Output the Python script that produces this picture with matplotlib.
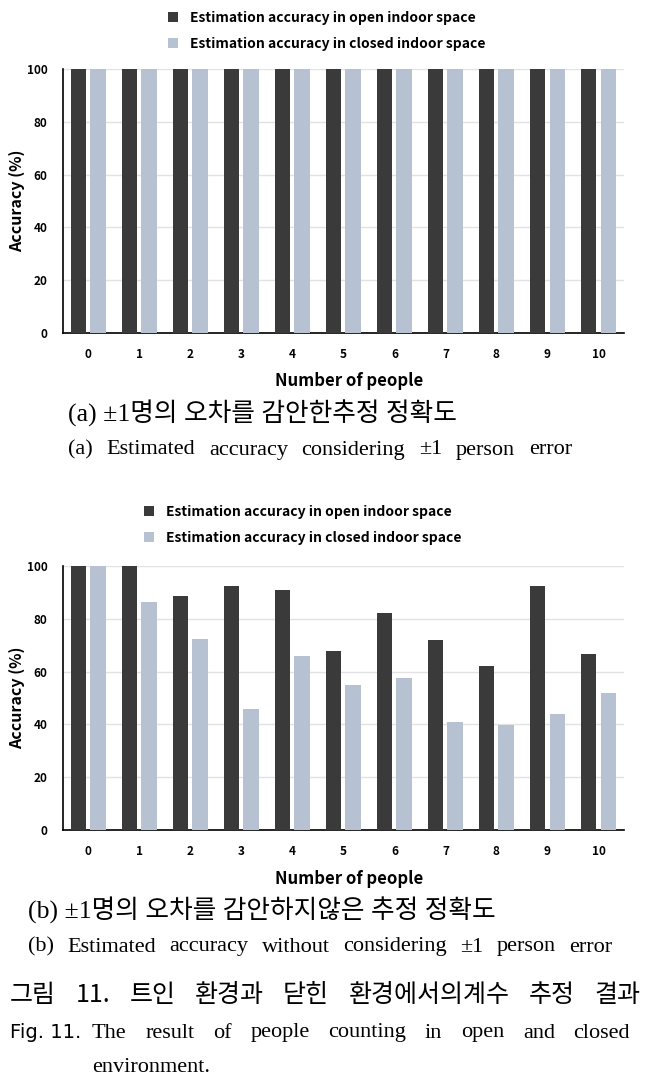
import numpy as np
import matplotlib
matplotlib.use('Agg')
import matplotlib.pyplot as plt

W, H = 649, 1088

people = list(range(11))
open_a = [100, 100, 100, 100, 100, 100, 100, 100, 100, 100, 100]
closed_a = [100, 100, 100, 100, 100, 100, 100, 100, 100, 100, 100]
open_b = [100, 100, 88.6, 92.4, 90.9, 67.9, 82.3, 71.9, 62.2, 92.4, 66.5]
closed_b = [100, 86.4, 72.3, 45.7, 65.9, 54.9, 57.4, 40.8, 39.9, 44.0, 51.9]

labels = ['Estimation accuracy in open indoor space',
          'Estimation accuracy in closed indoor space']
dark = '#3a3a3a'
light = '#b6c2d2'
chart_font = ['Noto Sans CJK KR', 'DejaVu Sans']
serif_kr = ['Liberation Serif', 'Noto Sans CJK KR']

fig = plt.figure(figsize=(W/100, H/100), dpi=100)


def px(x, y):
    return x/W, 1 - y/H


def chart(top, bottom, op, cl, leg_x, leg_y):
    l, t = px(62.7, top)
    r, b = px(624, bottom)
    ax = fig.add_axes([l, b, r - l, t - b])
    x = np.array(people)
    ax.bar(x - 0.19, op, 0.3, color=dark, label=labels[0], zorder=3)
    ax.bar(x + 0.19, cl, 0.3, color=light, label=labels[1], zorder=3)
    ax.set_xlim(-0.5, 10.5)
    ax.set_ylim(0, 100)
    ax.set_yticks([0, 20, 40, 60, 80, 100])
    ax.set_xticks(people)
    ax.grid(axis='y', color='#e2e2e2', lw=1, zorder=0)
    for s in ['top', 'right']:
        ax.spines[s].set_visible(False)
    ax.spines['left'].set_linewidth(1.2)
    ax.spines['bottom'].set_linewidth(1.2)
    ax.tick_params(length=0, labelsize=8.5, pad=11)
    for lab in ax.get_xticklabels() + ax.get_yticklabels():
        lab.set_family(chart_font)
        lab.set_fontweight('bold')
    ax.set_ylabel('Accuracy (%)', fontsize=11.5, fontweight='bold',
                  family=chart_font, labelpad=1)
    ax.set_xlabel('Number of people', fontsize=12, fontweight='bold',
                  family=chart_font)
    ax.xaxis.set_label_coords(0.51, -0.15)
    lx, ly = px(leg_x, leg_y)
    ax.legend(loc='upper left', bbox_to_anchor=(lx, ly),
              bbox_transform=fig.transFigure, frameon=False,
              prop={'family': chart_font, 'weight': 'bold', 'size': 10},
              handlelength=0.7, handleheight=0.7, handletextpad=0.9,
              labelspacing=0.85, borderaxespad=0, borderpad=0)
    return ax


chart(69.3, 332.7, open_a, closed_a, 168, 11)
chart(566, 830, open_b, closed_b, 144, 505)


def justify(words, x0, x1, y, **kw):
    texts = [fig.text(*px(x0, y), w, va='center', ha='left', **kw) for w in words]
    fig.canvas.draw()
    r = fig.canvas.get_renderer()
    widths = [t.get_window_extent(r).width for t in texts]
    gap = (x1 - x0 - sum(widths)) / (len(words) - 1)
    x = x0
    for t, w in zip(texts, widths):
        t.set_position(px(x, y))
        x += w + gap


fig.text(*px(68, 413), '(a) ±1명의 오차를 감안한추정 정확도', va='center',
         family=serif_kr, fontsize=18.5)
justify(['(a)', 'Estimated', 'accuracy', 'considering', '±1', 'person', 'error'],
        68, 572, 450, family=serif_kr, fontsize=16)

fig.text(*px(28, 910), '(b) ±1명의 오차를 감안하지않은 추정 정확도', va='center',
         family=serif_kr, fontsize=18.5)
justify(['(b)', 'Estimated', 'accuracy', 'without', 'considering', '±1', 'person', 'error'],
        28, 612, 947, family=serif_kr, fontsize=16)

justify(['그림', '11.', '트인', '환경과', '닫힌', '환경에서의계수', '추정', '결과'],
        10, 640, 995, family=['Noto Sans CJK KR'], fontsize=18)
fig.text(*px(10, 1033), 'Fig. 11.', va='center', family=['DejaVu Sans'], fontsize=14)
justify(['The', 'result', 'of', 'people', 'counting', 'in', 'open', 'and', 'closed'],
        92, 630, 1033, family=['Liberation Serif'], fontsize=16)
fig.text(*px(92, 1068), 'environment.', va='center', family=['Liberation Serif'],
         fontsize=16)

fig.savefig('out.png', dpi=100)
